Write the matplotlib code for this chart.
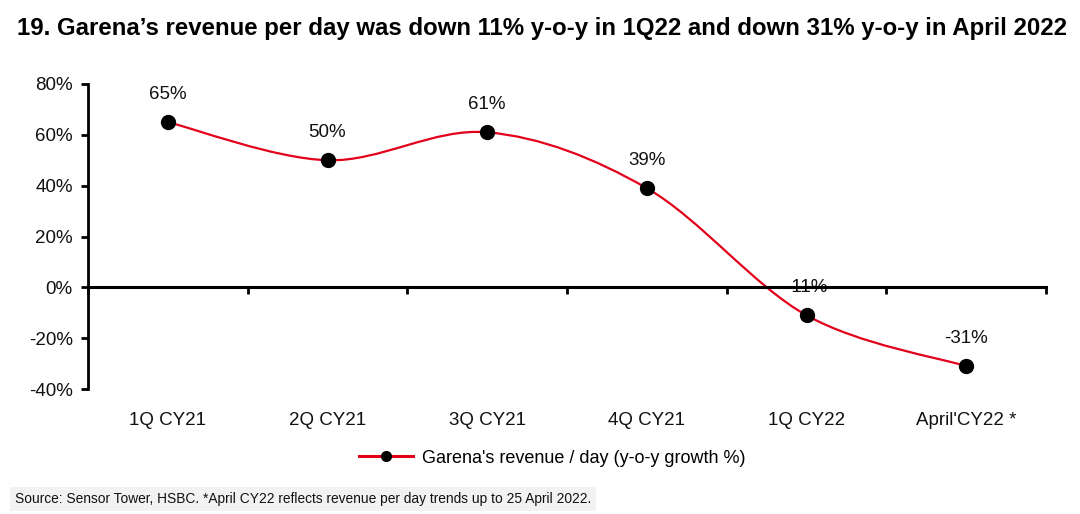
import matplotlib
matplotlib.use("Agg")
import matplotlib.pyplot as plt
from matplotlib.path import Path
from matplotlib.patches import PathPatch
from matplotlib.lines import Line2D
from matplotlib.ticker import FixedLocator, FuncFormatter

plt.rcParams['font.family'] = ['Liberation Sans', 'DejaVu Sans']

# Data
categories = ["1Q CY21", "2Q CY21", "3Q CY21", "4Q CY21", "1Q CY22", "April'CY22 *"]
growth = [65, 50, 61, 39, -11, -31]
point_labels = ["65%", "50%", "61%", "39%", "-11%", "-31%"]
y_ticks = [-40, -20, 0, 20, 40, 60, 80]

title = "19. Garena\u2019s revenue per day was down 11% y-o-y in 1Q22 and down 31% y-o-y in April 2022"
series_name = "Garena's revenue / day (y-o-y growth %)"
source = "Source: Sensor Tower, HSBC. *April CY22 reflects revenue per day trends up to 25 April 2022."

RED = "#e3001b"
TXT = "#111111"


def smooth_path(xs, ys):
    # Excel-like smoothed line: cubic Bezier through each point
    pts = list(zip(xs, ys))
    n = len(pts)
    verts = [pts[0]]
    codes = [Path.MOVETO]
    for i in range(n - 1):
        p0 = pts[i - 1] if i > 0 else pts[i]
        p1 = pts[i]
        p2 = pts[i + 1]
        p3 = pts[i + 2] if i + 2 < n else pts[i + 1]
        c1 = (p1[0] + (p2[0] - p0[0]) / 6, p1[1] + (p2[1] - p0[1]) / 6)
        c2 = (p2[0] - (p3[0] - p1[0]) / 6, p2[1] - (p3[1] - p1[1]) / 6)
        verts += [c1, c2, p2]
        codes += [Path.CURVE4] * 3
    return Path(verts, codes)


fig = plt.figure(figsize=(10.8, 5.14), dpi=100)
ax = fig.add_axes([88 / 1080, 1 - 389 / 514, (1046 - 88) / 1080, (389 - 84) / 514])

x = list(range(len(categories)))
ax.add_patch(PathPatch(smooth_path(x, growth), facecolor="none", edgecolor=RED,
                       lw=1.6, zorder=3))
ax.plot(x, growth, linestyle="none", marker="o", color="black", markersize=10, zorder=4)

# value labels sit behind the axis line (the -11% minus gets hidden like in the source)
for xi, yi, lab in zip(x, growth, point_labels):
    ax.annotate(lab, (xi, yi), xytext=(0, 17), textcoords="offset points",
                ha="center", va="baseline", fontsize=13.5, color=TXT, zorder=2)

ax.set_xlim(-0.5, len(categories) - 0.5)
ax.set_ylim(-40, 80)

for s in ["top", "right"]:
    ax.spines[s].set_visible(False)
ax.spines["bottom"].set_position(("data", 0))
ax.spines["left"].set_linewidth(2)
ax.spines["bottom"].set_linewidth(2.2)
ax.spines["left"].set_zorder(5)
ax.spines["bottom"].set_zorder(5)

ax.yaxis.set_major_locator(FixedLocator(y_ticks))
ax.yaxis.set_major_formatter(FuncFormatter(lambda v, p: f"{v:.0f}%"))
ax.tick_params(axis="y", direction="out", length=5, width=2, labelsize=13.5, pad=6,
               labelcolor=TXT)

ax.set_xticks([])
ax.xaxis.set_minor_locator(FixedLocator([i - 0.5 for i in range(len(categories) + 1)]))
ax.tick_params(axis="x", which="minor", direction="out", length=5, width=2)

for xi, cat in zip(x, categories):
    ax.text(xi, -54, cat, ha="center", va="baseline", fontsize=13.5, color=TXT)

fig.text(17 / 1080, 1 - 29 / 514, title, fontsize=17.3, fontweight="bold",
         ha="left", va="center")

handle = Line2D([], [], color=RED, lw=2.2, marker="o", markersize=7,
                markerfacecolor="black", markeredgecolor="black")
fig.legend([handle], [series_name], loc="center", bbox_to_anchor=(552 / 1080, 1 - 458 / 514),
           frameon=False, fontsize=13, handlelength=3.0, handletextpad=0.5)

fig.text(15 / 1080, 1 - 499 / 514, source, fontsize=9.9, ha="left", va="center",
         color=TXT,
         bbox=dict(boxstyle="square,pad=0.35", facecolor="#f2f2f2", edgecolor="none"))

fig.savefig("out.png", dpi=100)
